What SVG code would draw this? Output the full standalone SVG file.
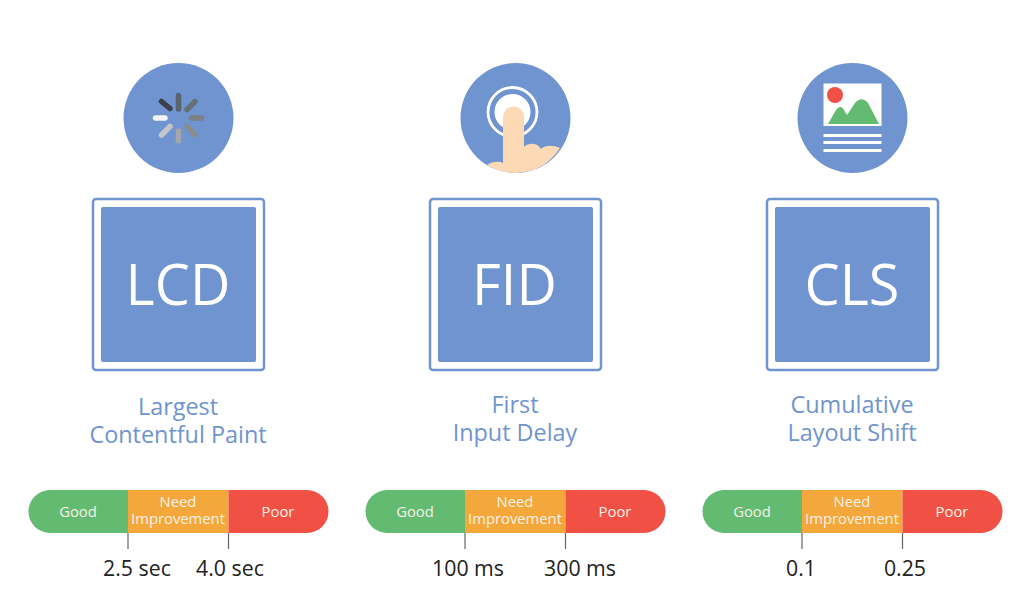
<svg xmlns="http://www.w3.org/2000/svg" width="1024" height="595" viewBox="0 0 1024 595">
<defs>
<style>
text{font-family:"Open Sans","Noto Sans",sans-serif;text-anchor:middle}
.disc{fill:#6f94cf}
.outer{fill:#fff;stroke:#6f94cf;stroke-width:2.5}
.inner{fill:#6f94cf}
.big{font-size:55.800px;fill:#fff}
.sub{font-size:23.400px;fill:#6f94cf}
.bl{font-size:14.800px;fill:#f4f1e6}
.val{font-size:21.300px;fill:#222}
.tick{stroke:#666;stroke-width:1.2}
.g{fill:#63bb72}.o{fill:#f4a83c}.r{fill:#f15145}
</style>
<g id="bar">
<path class="g" d="M128 490H50a21.500 21.500 0 0 0 0 43H128Z"/>
<rect class="o" x="128" y="490" width="100.500" height="43"/>
<path class="r" d="M228.500 490H307a21.500 21.500 0 0 1 0 43H228.500Z"/>
<text class="bl" x="78" y="517">Good</text>
<text class="bl" x="178" y="507">Need</text>
<text class="bl" x="178" y="524">Improvement</text>
<text class="bl" x="278" y="517">Poor</text>
<line class="tick" x1="128" y1="533" x2="128" y2="549"/>
<line class="tick" x1="228.500" y1="533" x2="228.500" y2="549"/>
</g>
</defs>
<rect width="1024" height="595" fill="#fff"/>

<g id="lcd">
<circle class="disc" cx="178.500" cy="118" r="55"/>
<g stroke-width="5.500" stroke-linecap="round" fill="none">
<line x1="178.500" y1="95.500" x2="178.500" y2="109" stroke="#5a6470"/>
<line x1="195" y1="101.500" x2="187" y2="109.500" stroke="#666f7a"/>
<line x1="201.500" y1="118" x2="191.500" y2="118" stroke="#7c8084"/>
<line x1="195" y1="134.500" x2="187" y2="126.500" stroke="#8a8d90"/>
<line x1="178.500" y1="141" x2="178.500" y2="131" stroke="#a3a5a8"/>
<line x1="161.500" y1="135" x2="170" y2="126.500" stroke="#c3c5c8"/>
<line x1="155.500" y1="118" x2="165" y2="118" stroke="#f4f4f4"/>
<line x1="161.500" y1="101.500" x2="170" y2="108.500" stroke="#3c4048"/>
</g>
<rect class="outer" x="93" y="199" width="171" height="171" rx="3"/>
<rect class="inner" x="101" y="207" width="155" height="155" rx="2"/>
<text class="big" x="178" y="305">LCD</text>
<text class="sub" x="178" y="415">Largest</text>
<text class="sub" x="178" y="443">Contentful Paint</text>
</g>

<g id="fid">
<circle class="disc" cx="515.500" cy="118" r="55"/>
<circle cx="512.500" cy="112" r="24.500" fill="none" stroke="#fff" stroke-width="2.800"/>
<circle cx="512.500" cy="112" r="18" fill="#fff"/>
<path d="M487 165C493 161 499 161 503 163V117a10.500 10.500 0 0 1 21 0V147C528 143 537 142 541 149C545 145 553 145 560 148C549 165 533 173 515 173C505 173 495 170 487 165Z" fill="#fdd9b5"/>
<rect class="outer" x="430" y="199" width="171" height="171" rx="3"/>
<rect class="inner" x="438" y="207" width="155" height="155" rx="2"/>
<text class="big" x="514.500" y="305">FID</text>
<text class="sub" x="515" y="413">First</text>
<text class="sub" x="515" y="441">Input Delay</text>
</g>

<g id="cls">
<circle class="disc" cx="852.500" cy="118" r="55"/>
<rect x="823.500" y="83.500" width="58" height="42.500" fill="#fff"/>
<circle cx="835" cy="95" r="8" fill="#f15145"/>
<path d="M828 124L836 110C839 106 842 106 844 110L847 115L855 103C859 98 864 98 868 103L879 124Z" fill="#63bb72"/>
<rect x="823.500" y="134" width="58" height="3" fill="#fff"/>
<rect x="823.500" y="141" width="58" height="3" fill="#fff"/>
<rect x="823.500" y="149" width="58" height="3" fill="#fff"/>
<rect class="outer" x="767" y="199" width="171" height="171" rx="3"/>
<rect class="inner" x="775" y="207" width="155" height="155" rx="2"/>
<text class="big" x="852" y="305">CLS</text>
<text class="sub" x="852" y="413">Cumulative</text>
<text class="sub" x="852" y="441">Layout Shift</text>
</g>

<g id="scale-lcd">
<use href="#bar"/>
<text class="val" x="137" y="576">2.5 sec</text>
<text class="val" x="230" y="576">4.0 sec</text>
</g>
<g id="scale-fid">
<use href="#bar" x="337"/>
<text class="val" x="468" y="576">100 ms</text>
<text class="val" x="580" y="576">300 ms</text>
</g>
<g id="scale-cls">
<use href="#bar" x="674"/>
<text class="val" x="801" y="576">0.1</text>
<text class="val" x="905" y="576">0.25</text>
</g>
</svg>
